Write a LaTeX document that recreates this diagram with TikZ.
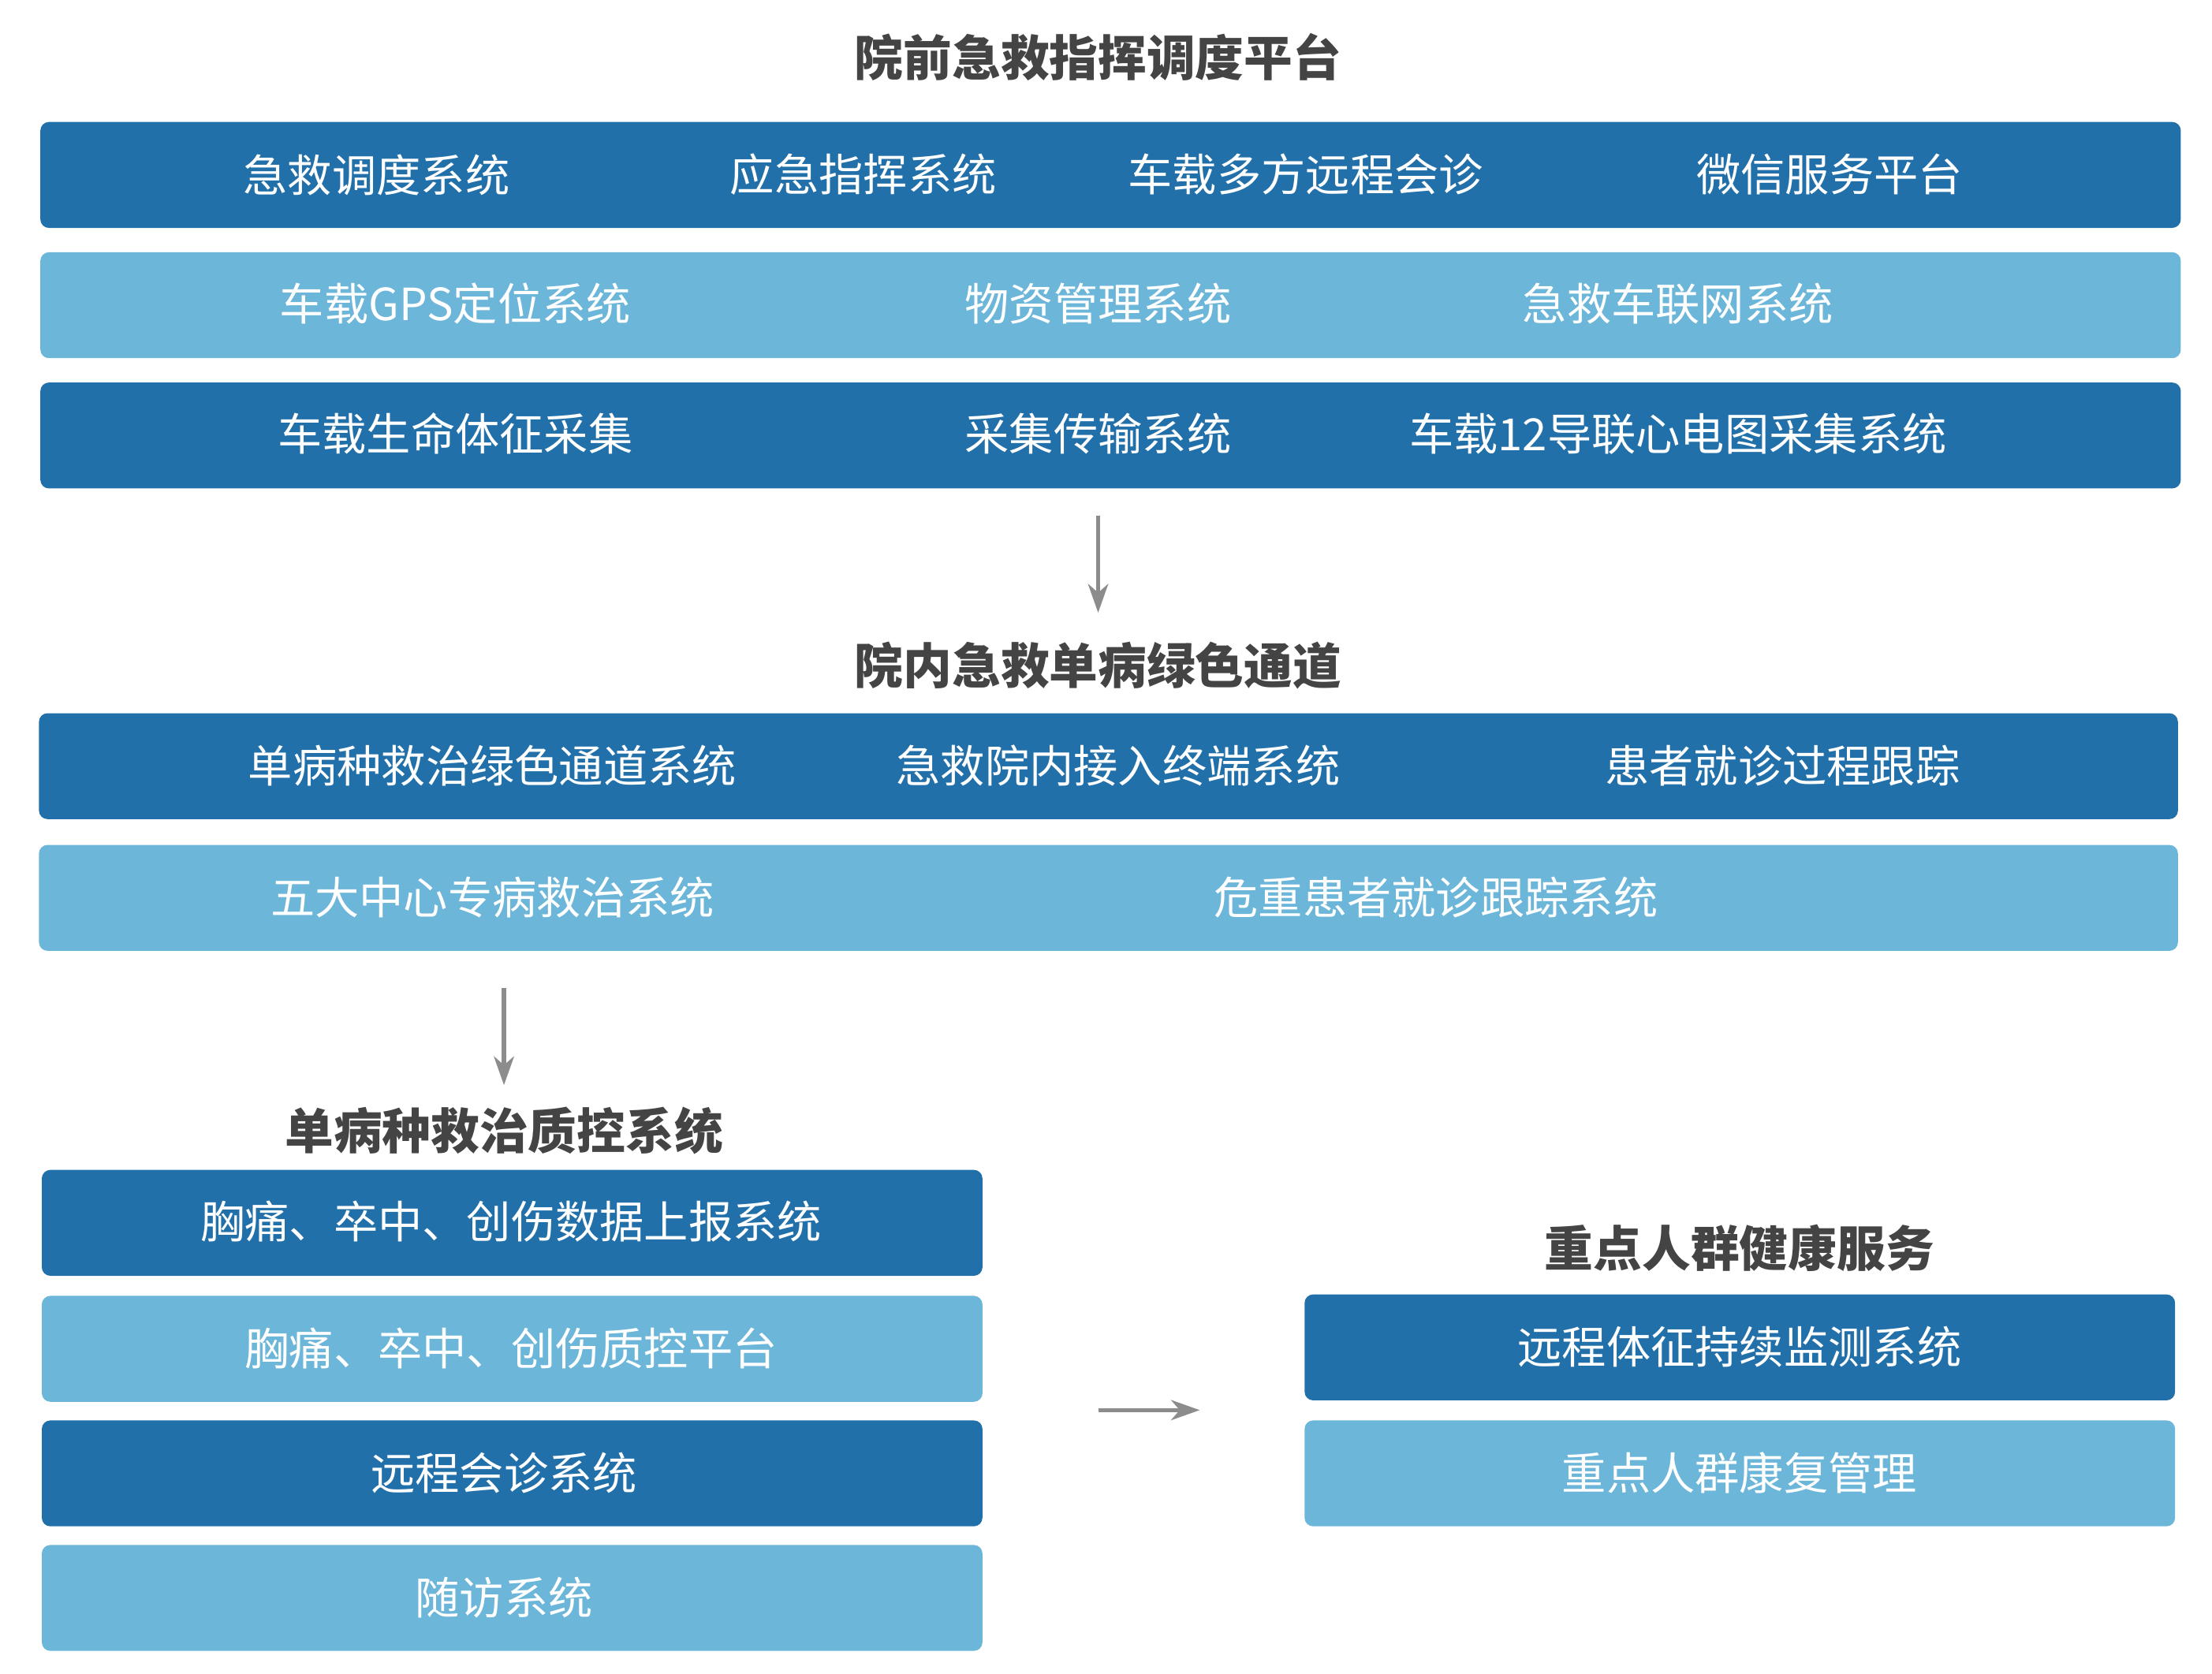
\documentclass[tikz,border=0pt]{standalone}
\usepackage{fontspec}
\setmainfont{Noto Sans CJK SC}
\usetikzlibrary{arrows.meta}
\definecolor{darkblue}{HTML}{2270A9}
\definecolor{lightblue}{HTML}{6CB6D9}
\definecolor{titlegray}{HTML}{444444}
\definecolor{arrowgray}{HTML}{8C8C8C}
\tikzstyle{darkbar} = [rectangle, rounded corners=6pt, fill=darkblue, draw=none, anchor=north west, minimum height=74pt, inner sep=0pt]
\tikzstyle{lightbar} = [darkbar, fill=lightblue]
\tikzstyle{label} = [text=white, font=\fontsize{31}{36}\selectfont]
\tikzstyle{heading} = [text=titlegray, font=\fontsize{34}{40}\selectfont\bfseries]
\tikzstyle{arrow} = [arrowgray, line width=3pt, -{Stealth[length=20pt,width=14pt,inset=6pt]}]

\begin{document}
\begin{tikzpicture}[x=1pt, y=-1pt]
\useasboundingbox (0,0) rectangle (1545,1169);

%% BARS

\node (r1) [darkbar, minimum width=1495pt] at (28,85) {};
\node (r2) [lightbar, minimum width=1495pt] at (28,176) {};
\node (r3) [darkbar, minimum width=1495pt] at (28,267) {};
\node (r4) [darkbar, minimum width=1494pt] at (27,498) {};
\node (r5) [lightbar, minimum width=1494pt] at (27,590) {};
\node (l1) [darkbar, minimum width=657pt] at (29,817) {};
\node (l2) [lightbar, minimum width=657pt] at (29,905) {};
\node (l3) [darkbar, minimum width=657pt] at (29,992) {};
\node (l4) [lightbar, minimum width=657pt] at (29,1079) {};
\node (k1) [darkbar, minimum width=608pt] at (911,904) {};
\node (k2) [lightbar, minimum width=608pt] at (911,992) {};

%% HEADINGS

\node (h1) [heading] at (767,40) {院前急救指挥调度平台};
\node (h2) [heading] at (767,465) {院内急救单病绿色通道};
\node (h3) [heading] at (352,790) {单病种救治质控系统};
\node (h4) [heading] at (1215,872) {重点人群健康服务};

%% LABELS

\node (t11) [label] at (263,122) {急救调度系统};
\node (t12) [label] at (603,122) {应急指挥系统};
\node (t13) [label] at (912,122) {车载多方远程会诊};
\node (t14) [label] at (1278,122) {微信服务平台};
\node (t21) [label] at (318,212) {车载GPS定位系统};
\node (t22) [label] at (767,212) {物资管理系统};
\node (t23) [label] at (1172,212) {急救车联网系统};
\node (t31) [label] at (318,303) {车载生命体征采集};
\node (t32) [label] at (767,303) {采集传输系统};
\node (t33) [label] at (1172,303) {车载12导联心电图采集系统};
\node (t41) [label] at (344,535) {单病种救治绿色通道系统};
\node (t42) [label] at (781,535) {急救院内接入终端系统};
\node (t43) [label] at (1245,535) {患者就诊过程跟踪};
\node (t51) [label] at (344,627) {五大中心专病救治系统};
\node (t52) [label] at (1003,627) {危重患者就诊跟踪系统};
\node (tl1) [label] at (357,853) {胸痛、卒中、创伤数据上报系统};
\node (tl2) [label] at (357,942) {胸痛、卒中、创伤质控平台};
\node (tl3) [label] at (352,1029) {远程会诊系统};
\node (tl4) [label] at (352,1116) {随访系统};
\node (tk1) [label] at (1215,941) {远程体征持续监测系统};
\node (tk2) [label] at (1215,1029) {重点人群康复管理};

%% ARROWS

\coordinate (a1) at (767,360);
\coordinate (b1) at (767,428);
\coordinate (a2) at (352,690);
\coordinate (b2) at (352,758);
\coordinate (a3) at (767,985);
\coordinate (b3) at (838,985);
\draw [arrow] (a1) -- (b1);
\draw [arrow] (a2) -- (b2);
\draw [arrow] (a3) -- (b3);

\end{tikzpicture}
\end{document}
